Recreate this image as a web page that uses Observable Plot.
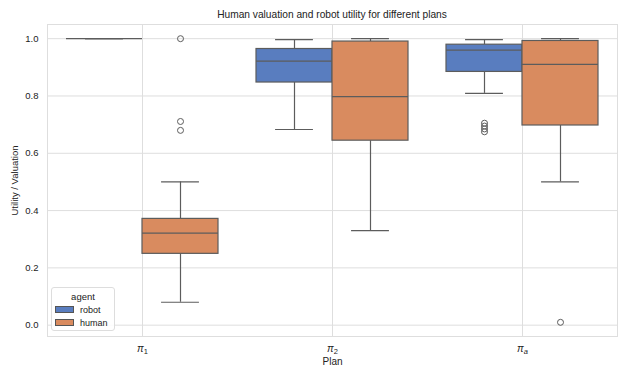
<!DOCTYPE html>
<html>
<head>
<meta charset="utf-8">
<script src="https://cdn.jsdelivr.net/npm/d3@7"></script>
<script src="https://cdn.jsdelivr.net/npm/@observablehq/plot@0.6"></script>
<style>
  html, body { margin: 0; padding: 0; background: #fff; }
  #wrap { position: relative; width: 618px; height: 365px; font-family: "Liberation Sans", Arial, sans-serif; }
  #title { position: absolute; top: 9px; left: 46px; width: 572px; text-align: center; font-size: 10.2px; color: #222; }
  #legend { position: absolute; left: 51px; top: 287px; width: 64px; height: 44px; box-sizing: border-box;
            border: 1px solid #ddd; border-radius: 3px; background: rgba(255,255,255,0.85); font-size: 9px; color: #222; }
  #legend .t { text-align: center; margin-top: 3px; font-size: 9.5px; }
  #legend .row { display: flex; align-items: center; margin-left: 3px; margin-top: 2px; height: 11px; }
  #legend .sw { width: 19px; height: 7px; border: 1px solid #555; box-sizing: border-box; margin-right: 6px; }
</style>
</head>
<body>
<div id="wrap">
  <div id="chart"></div>
  <div id="title"></div>
  <div id="legend"></div>
</div>
<script>
const title = "Human valuation and robot utility for different plans";
const plans = ["π1", "π2", "πa"];
const agents = ["robot", "human"];
const colors = ["#597dbf", "#d98b5f"];

// summary statistics per plan (order of plans)
const robotLo  = [1.0, 0.683, 0.809];
const robotQ1  = [1.0, 0.847, 0.884];
const robotMed = [1.0, 0.922, 0.960];
const robotQ3  = [1.0, 0.964, 0.979];
const robotHi  = [1.0, 0.997, 0.997];

const humanLo  = [0.08, 0.33, 0.50];
const humanQ1  = [0.249, 0.644, 0.697];
const humanMed = [0.321, 0.798, 0.910];
const humanQ3  = [0.371, 0.990, 0.992];
const humanHi  = [0.50, 1.0, 1.0];

// outliers
const robotOutPlan = ["πa", "πa", "πa", "πa"];
const robotOutVal  = [0.705, 0.695, 0.685, 0.675];
const humanOutPlan = ["π1", "π1", "π1", "πa"];
const humanOutVal  = [1.0, 0.711, 0.680, 0.01];

const yTicks = [0, 0.2, 0.4, 0.6, 0.8, 1.0];

const stats = [];
plans.forEach((p, i) => {
  stats.push({plan: p, agent: "robot", lo: robotLo[i], q1: robotQ1[i], med: robotMed[i], q3: robotQ3[i], hi: robotHi[i]});
  stats.push({plan: p, agent: "human", lo: humanLo[i], q1: humanQ1[i], med: humanMed[i], q3: humanQ3[i], hi: humanHi[i]});
});
const outliers = [
  ...robotOutVal.map((v, i) => ({plan: robotOutPlan[i], agent: "robot", v})),
  ...humanOutVal.map((v, i) => ({plan: humanOutPlan[i], agent: "human", v}))
];

const W = 618, H = 365, mL = 46, mR = 0, mT = 24, mB = 29;
const facetW = (W - mL - mR) / plans.length;
const outerPad = 0.25;
const boxW = facetW / (agents.length + 2 * outerPad);
const capInset = boxW / 4;
const lineColor = "#5c5c5c";
const gridColor = "#dedede";

const plot = Plot.plot({
  width: W, height: H,
  marginLeft: mL, marginRight: mR, marginTop: mT, marginBottom: mB,
  style: {fontFamily: "Liberation Sans, Arial, sans-serif", fontSize: "9.5px", color: "#222", background: "#fff"},
  fx: {domain: plans, padding: 0},
  x: {domain: agents, paddingInner: 0, paddingOuter: outerPad, axis: null},
  y: {domain: [-0.0395, 1.0495]},
  color: {domain: agents, range: colors},
  marks: [
    Plot.gridY({ticks: yTicks, stroke: gridColor, strokeOpacity: 1, strokeWidth: 1}),
    Plot.gridFx({stroke: gridColor, strokeOpacity: 1, strokeWidth: 1}),
    Plot.frame({anchor: "top", stroke: gridColor}),
    Plot.frame({anchor: "bottom", stroke: gridColor}),
    Plot.frame({anchor: "left", stroke: gridColor, fx: () => plans[0]}),
    Plot.frame({anchor: "right", stroke: gridColor, fx: () => plans[plans.length - 1]}),
    Plot.axisY({ticks: yTicks, tickFormat: ".1f", tickSize: 0, tickPadding: 9, fontSize: 9.5,
                label: "Utility / Valuation", labelAnchor: "center", labelOffset: 36, labelArrow: "none"}),
    Plot.axisFx({anchor: "bottom", tickSize: 0, tickPadding: 8, fontSize: 10,
                 label: "Plan", labelAnchor: "center", labelOffset: 28, labelArrow: "none"}),
    Plot.ruleX(stats, {fx: "plan", x: "agent", y1: "q3", y2: "hi", stroke: lineColor, strokeWidth: 1.2}),
    Plot.ruleX(stats, {fx: "plan", x: "agent", y1: "lo", y2: "q1", stroke: lineColor, strokeWidth: 1.2}),
    Plot.rect(stats, {fx: "plan", x: "agent", y1: "q1", y2: "q3", fill: "agent", stroke: lineColor, strokeWidth: 1.2}),
    Plot.tickY(stats, {fx: "plan", x: "agent", y: "med", stroke: lineColor, strokeWidth: 1.2}),
    Plot.tickY(stats, {fx: "plan", x: "agent", y: "hi", stroke: lineColor, strokeWidth: 1.2, insetLeft: capInset, insetRight: capInset}),
    Plot.tickY(stats, {fx: "plan", x: "agent", y: "lo", stroke: lineColor, strokeWidth: 1.2, insetLeft: capInset, insetRight: capInset}),
    Plot.dot(outliers, {fx: "plan", x: "agent", y: "v", r: 3, stroke: lineColor, strokeWidth: 1, fill: "none"})
  ]
});
document.getElementById("chart").appendChild(plot);
document.getElementById("title").textContent = title;

// render plan tick labels as italic π with a subscript
d3.select(plot).selectAll("g[aria-label='fx-axis tick label'] text").each(function() {
  const s = this.textContent;
  if (!s.startsWith("π")) return;
  const t = d3.select(this);
  t.text(null);
  t.append("tspan").attr("font-style", "italic").text("π");
  t.append("tspan").attr("font-size", "7.5px").attr("dy", "0.3em")
    .attr("font-style", s.slice(1) === "a" ? "italic" : null).text(s.slice(1));
});

const legend = document.getElementById("legend");
const lt = document.createElement("div");
lt.className = "t"; lt.textContent = "agent";
legend.appendChild(lt);
agents.forEach((a, i) => {
  const row = document.createElement("div");
  row.className = "row";
  const sw = document.createElement("div");
  sw.className = "sw"; sw.style.background = colors[i];
  const tx = document.createElement("span");
  tx.textContent = a;
  row.appendChild(sw); row.appendChild(tx);
  legend.appendChild(row);
});
</script>
</body>
</html>
